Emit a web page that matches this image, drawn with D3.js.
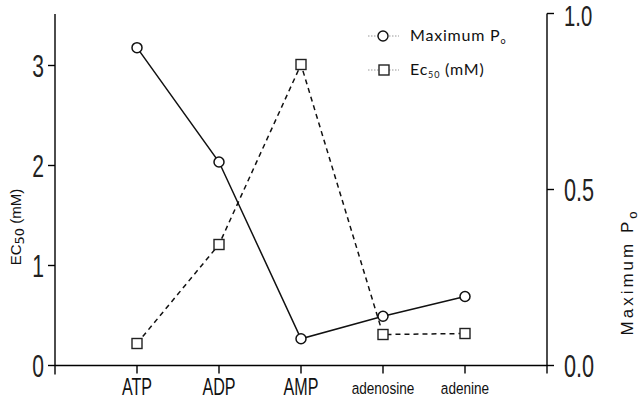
<!DOCTYPE html>
<html><head><meta charset="utf-8">
<script src="https://cdn.jsdelivr.net/npm/d3@7"></script>
<style>
body{margin:0;background:#fff;}
svg{display:block;}
</style></head>
<body>
<svg id="c" width="640" height="400"></svg>
<script>
const categories = ["ATP","ADP","AMP","adenosine","adenine"];
const maxPo = [0.903, 0.578, 0.076, 0.140, 0.196];
const ec50 = [0.22, 1.21, 3.01, 0.31, 0.32];
const leftTicks = [0,1,2,3];
const rightTicks = [0,0.5,1];
const rightTickLabels = ["0.0","0.5","1.0"];

const svg = d3.select("#c");
const x = d3.scalePoint().domain(categories).range([55,547]).padding(1);
const yL = d3.scaleLinear().domain([0,3.5]).range([365.5,15.5]);
const yR = d3.scaleLinear().domain([0,1]).range([365.5,13.5]);
const sans = "'Liberation Sans',Arial,sans-serif";

// axes lines
const ax = svg.append("g").attr("stroke","#000").attr("stroke-width",1.4).attr("fill","none");
ax.append("line").attr("x1",55).attr("x2",55).attr("y1",yL(3.515)).attr("y2",yL(0)+9);
ax.append("line").attr("x1",547).attr("x2",547).attr("y1",yR(1)).attr("y2",yR(0)+8);
ax.append("line").attr("x1",55).attr("x2",547).attr("y1",yL(0)).attr("y2",yL(0));
leftTicks.forEach(t=>{
  ax.append("line").attr("x1",48).attr("x2",55).attr("y1",yL(t)).attr("y2",yL(t));
});
rightTicks.forEach(t=>{
  ax.append("line").attr("x1",547).attr("x2",554).attr("y1",yR(t)).attr("y2",yR(t));
});
categories.forEach(c=>{
  ax.append("line").attr("x1",x(c)).attr("x2",x(c)).attr("y1",yL(0)).attr("y2",yL(0)+8);
});

// tick labels (condensed look via horizontal scale)
svg.append("g").selectAll("text").data(leftTicks).join("text")
  .attr("transform",d=>`translate(44,${yL(d)+11}) scale(0.68,1)`).attr("text-anchor","end")
  .attr("font-family",sans).attr("font-size",31).attr("fill","#222").text(d=>d);
svg.append("g").selectAll("text").data(rightTicks).join("text")
  .attr("transform",d=>`translate(564,${Math.max(yR(d)+11,26)}) scale(0.7,1)`).attr("text-anchor","start")
  .attr("font-family",sans).attr("font-size",d=>d===1?29:31).attr("fill","#222")
  .text((d,i)=>rightTickLabels[i]);
svg.append("g").selectAll("text").data(categories).join("text")
  .attr("transform",d=>`translate(${x(d)},${d===d.toUpperCase()?395:394}) scale(${d===d.toUpperCase()?0.7:0.8},1)`)
  .attr("text-anchor","middle")
  .attr("font-family",sans).attr("font-size",d=>d===d.toUpperCase()?23:17).attr("fill","#111")
  .text(d=>d);

// axis titles
const lt = svg.append("text").attr("transform","translate(21,227) rotate(-90)")
  .attr("text-anchor","middle").attr("font-family",sans)
  .attr("font-size",15).attr("fill","#111");
lt.append("tspan").text("EC");
lt.append("tspan").attr("font-size",13).attr("dy",3).attr("font-family","'DejaVu Sans',sans-serif").text("50");
lt.append("tspan").attr("dy",-3).text(" (mM)");

const rt = svg.append("text").attr("transform","translate(633,272) rotate(-90)")
  .attr("text-anchor","middle").attr("font-family",sans)
  .attr("font-size",17).attr("letter-spacing",3).attr("fill","#111");
rt.append("tspan").text("Maximum  P");
rt.append("tspan").attr("font-size",13).attr("dy",4).text("o");

// series lines
const idx = d3.range(categories.length);
svg.append("path").datum(idx)
  .attr("d", d3.line().x(i=>x(categories[i])).y(i=>yL(ec50[i])))
  .attr("fill","none").attr("stroke","#111").attr("stroke-width",1.5).attr("stroke-dasharray","5,4");
svg.append("path").datum(idx)
  .attr("d", d3.line().x(i=>x(categories[i])).y(i=>yR(maxPo[i])))
  .attr("fill","none").attr("stroke","#111").attr("stroke-width",1.5);

// markers
svg.append("g").selectAll("rect").data(idx).join("rect")
  .attr("x",i=>x(categories[i])-5).attr("y",i=>yL(ec50[i])-5)
  .attr("width",10).attr("height",10).attr("fill","#fff").attr("stroke","#222").attr("stroke-width",1.4);
svg.append("g").selectAll("circle").data(idx).join("circle")
  .attr("cx",i=>x(categories[i])).attr("cy",i=>yR(maxPo[i])).attr("r",5)
  .attr("fill","#fff").attr("stroke","#111").attr("stroke-width",1.5);

// legend
const lg = svg.append("g");
lg.append("line").attr("x1",368).attr("x2",399).attr("y1",36).attr("y2",36)
  .attr("stroke","#999").attr("stroke-width",1).attr("stroke-dasharray","1.5,1.5");
lg.append("circle").attr("cx",383).attr("cy",36).attr("r",5).attr("fill","#fff").attr("stroke","#111").attr("stroke-width",1.4);
lg.append("line").attr("x1",368).attr("x2",399).attr("y1",70).attr("y2",70)
  .attr("stroke","#999").attr("stroke-width",1).attr("stroke-dasharray","1.5,1.5");
lg.append("rect").attr("x",379).attr("y",65).attr("width",10).attr("height",10).attr("fill","#fff").attr("stroke","#222").attr("stroke-width",1.4);
const t1 = lg.append("text").attr("x",410).attr("y",41).attr("font-family","Lato,'Noto Sans',sans-serif").attr("font-size",16).attr("letter-spacing",0.8).attr("fill","#111");
t1.append("tspan").text("Maximum P");
t1.append("tspan").attr("font-size",9).attr("dy",3).text("o");
const t2 = lg.append("text").attr("x",410).attr("y",75).attr("font-family","Lato,'Noto Sans',sans-serif").attr("font-size",16).attr("letter-spacing",0.8).attr("fill","#111");
t2.append("tspan").text("Ec");
t2.append("tspan").attr("font-size",9).attr("dy",3).text("50");
t2.append("tspan").attr("dy",-3).text(" (mM)");
</script>
</body></html>
